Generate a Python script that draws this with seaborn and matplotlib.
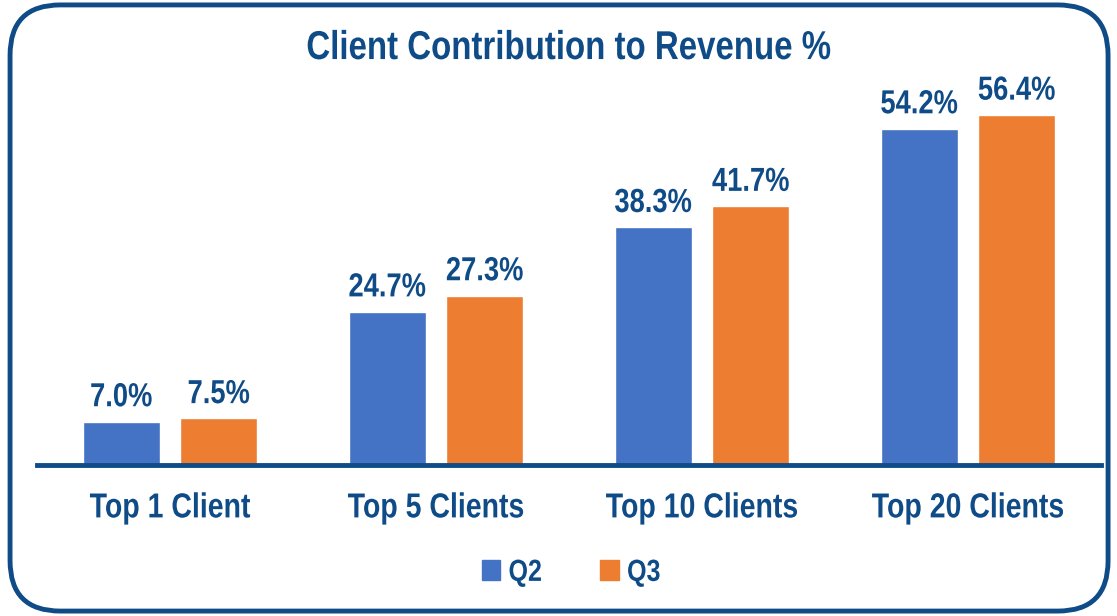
import pandas as pd
import seaborn as sns
import matplotlib.pyplot as plt
from matplotlib.patches import FancyBboxPatch
from matplotlib.patheffects import AbstractPathEffect
from matplotlib.transforms import Affine2D

# chart values
categories = ["Top 1 Client", "Top 5 Clients", "Top 10 Clients", "Top 20 Clients"]
quarters = ["Q2", "Q3"]
q2_values = [7.0, 24.7, 38.3, 54.2]
q3_values = [7.5, 27.3, 41.7, 56.4]

df = pd.DataFrame({
    "client": categories * 2,
    "quarter": ["Q2"] * 4 + ["Q3"] * 4,
    "share": q2_values + q3_values,
})

navy = "#0F4C87"
palette = {"Q2": "#4472C4", "Q3": "#ED7D31"}


# the original uses a narrow bold font; squeeze Liberation Sans about its centre
class Squeeze(AbstractPathEffect):
    def __init__(self, sx=0.82):
        super().__init__()
        self.sx = sx

    def draw_path(self, renderer, gc, tpath, affine, rgbFace=None):
        ext = tpath.get_extents()
        cx = (ext.x0 + ext.x1) / 2
        t = Affine2D().translate(-cx, 0).scale(self.sx, 1).translate(cx, 0) + affine
        renderer.draw_path(gc, tpath, t, rgbFace)


narrow = [Squeeze(0.82)]

sns.set_style("white")
plt.rcParams["font.family"] = ["Liberation Sans", "DejaVu Sans"]

fig = plt.figure(figsize=(11.17, 6.16), dpi=100)
ax = fig.add_axes([0.0331, 0.2451, 0.9526, 0.6549])

sns.barplot(data=df, x="client", y="share", hue="quarter", hue_order=quarters,
            palette=palette, width=0.733, gap=0.21, saturation=1,
            legend=False, ax=ax)

ax.set_ylim(0, 65)
ax.set_xlim(-0.5, 3.5)
ax.set_xlabel("")
ax.set_ylabel("")
ax.set_yticks([])
for side in ["top", "right", "left"]:
    ax.spines[side].set_visible(False)
ax.spines["bottom"].set_color(navy)
ax.spines["bottom"].set_linewidth(3.5)
ax.tick_params(axis="x", length=0, pad=19)
for lab in ax.get_xticklabels():
    lab.set_fontsize(25)
    lab.set_fontweight("bold")
    lab.set_color(navy)
    lab.set_path_effects(narrow)

for cont in ax.containers:
    txts = ax.bar_label(cont, labels=[f"{v:.1f}%" for v in cont.datavalues],
                        padding=6, fontsize=24, fontweight="bold", color=navy)
    for t in txts:
        t.set_path_effects(narrow)

fig.text(0.5086, 0.922, "Client Contribution to Revenue %", ha="center", va="center",
         fontsize=29, fontweight="bold", color=navy, path_effects=narrow)

# legend
handles = [plt.Rectangle((0, 0), 1, 1, color=palette[q]) for q in quarters]
leg = fig.legend(handles, quarters, loc="center", bbox_to_anchor=(0.513, 0.07),
                 ncol=2, frameon=False, handlelength=0.6, handleheight=0.6,
                 handletextpad=0.15, columnspacing=1.8,
                 prop={"size": 22, "weight": "bold"})
for t in leg.get_texts():
    t.set_color(navy)
    t.set_path_effects(narrow)

# rounded border around the whole chart
border = FancyBboxPatch((0.009, 0.008), 0.983, 0.984,
                        boxstyle="round,pad=0,rounding_size=0.045",
                        transform=fig.transFigure, facecolor="none",
                        edgecolor=navy, linewidth=3.5, mutation_aspect=1117 / 616)
fig.patches.append(border)

fig.savefig("out.png", dpi=100)
